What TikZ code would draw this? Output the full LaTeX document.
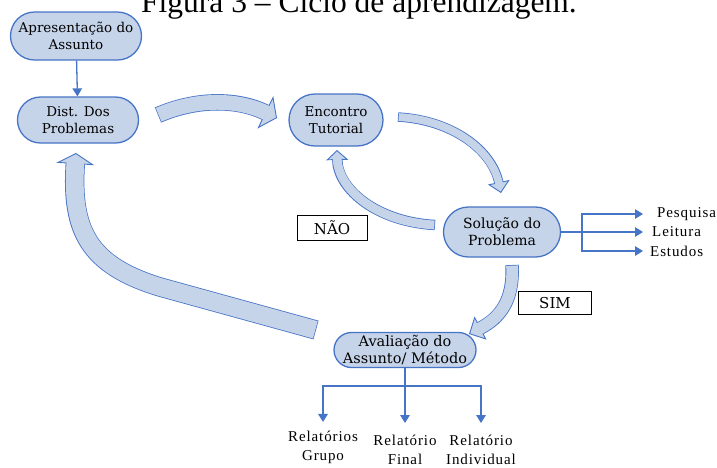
\documentclass[tikz,border=0pt]{standalone}
\usepackage{fontspec}
\setmainfont{Liberation Serif}
\newfontfamily\caixafont{DejaVu Serif}
\newfontfamily\rotulofont[LetterSpace=6]{Liberation Serif}
\usetikzlibrary{shapes.misc,arrows.meta,positioning}

\definecolor{azul}{RGB}{70,116,198}
\definecolor{azulclaro}{RGB}{198,212,234}

% seta larga: largura do corpo, largura da ponta, comprimento da ponta, caminho
\newcommand{\setabloco}[4]{%
  \draw[azul, line width=#1+1.4pt, -{Triangle[length=#3, width=#2, fill=azulclaro, line width=0.9pt]}] #4;
  \draw[azulclaro, line width=#1-0.2pt, shorten <=0.7pt, shorten >=#3-1.5pt] #4;
}

\tikzset{
  passo/.style={rounded rectangle, draw=azul, fill=azulclaro, line width=1.3pt,
    align=center, inner sep=1pt, font=\caixafont\fontsize{13.5}{17}\selectfont},
  caixa/.style={draw, line width=0.9pt, inner sep=0pt, font=\caixafont\fontsize{15}{15}\selectfont},
  rotulo/.style={align=center, font=\rotulofont\fontsize{15}{19}\selectfont},
  seta/.style={azul, line width=1.3pt, -{Triangle[length=8pt,width=9.5pt]}},
}

\begin{document}
\begin{tikzpicture}[x=1pt,y=-1pt]

\useasboundingbox (0,0) rectangle (717,467);

\node[anchor=base, font=\fontsize{31.5}{31.5}\selectfont] (titulo) at (359,12) {Figura 3 -- Ciclo de aprendizagem.};

\node[passo, minimum width=133pt, minimum height=48pt] (apres) at (76,36) {Apresentação do\\Assunto};
\node[passo, minimum width=123pt, minimum height=46pt] (dist) at (78,120) {Dist. Dos\\Problemas};
\node[passo, minimum width=96pt, minimum height=52pt] (encontro) at (336,120) {Encontro\\Tutorial};
\node[passo, minimum width=119pt, minimum height=50pt, font=\caixafont\fontsize{14}{17}\selectfont] (solucao) at (502,232) {Solução do\\Problema};
\node[passo, minimum width=144pt, minimum height=35pt, font=\caixafont\fontsize{14.5}{16.5}\selectfont] (avaliacao) at (405,350) {Avaliação do\\Assunto/ Método};

\node[caixa, minimum width=70pt, minimum height=25pt] (nao) at (332,228) {NÃO};
\node[caixa, minimum width=73pt, minimum height=23pt] (sim) at (555,303) {SIM};

\node[rotulo, anchor=west, inner xsep=14pt] (pesq) at (643,214) {Pesquisa};
\node[rotulo, anchor=west, inner xsep=9pt] (leit) at (643,232) {Leitura};
\node[rotulo, anchor=west, inner xsep=7pt] (estud) at (643,251) {Estudos};

\node[rotulo, anchor=south, inner ysep=0pt] (relgrupo) at (323,464) {Relatórios\\Grupo};
\node[rotulo, anchor=south, inner ysep=0pt] (relfinal) at (405,465) {Relatório\\Final};
\node[rotulo, anchor=south, inner ysep=0pt] (relind) at (481,465) {Relatório\\Individual};

\draw[seta] (apres) -- (dist);

\draw[azul, line width=1.3pt] (solucao.east) -- (582,232) coordinate (ramo);
\draw[seta] (ramo) |- (pesq.west);
\draw[seta] (ramo) -- (leit.west);
\draw[seta] (ramo) |- (estud.west);

\draw[azul, line width=1.3pt] (avaliacao.south) -- (405,386) coordinate (base);
\draw[seta, shorten >=9pt] (base) -| (relgrupo.north);
\draw[seta, shorten >=12pt] (base) -- (relfinal.north);
\draw[seta, shorten >=12pt] (base) -| (relind.north);

\setabloco{15pt}{36pt}{13pt}{(158,115) .. controls (200,97) and (240,100) .. (277,118)}
\setabloco{8pt}{22pt}{11pt}{(398,117) .. controls (452,120) and (492,150) .. (501,193)}
\setabloco{9pt}{22pt}{10pt}{(435,225) .. controls (378,222) and (338,190) .. (337,150)}
\setabloco{12pt}{26pt}{13pt}{(512,265) .. controls (514,300) and (500,318) .. (469,334)}
\setabloco{18pt}{38pt}{11pt}{(316,330) -- (160,287) .. controls (88,265) and (71,230) .. (76,153)}

\end{tikzpicture}
\end{document}
